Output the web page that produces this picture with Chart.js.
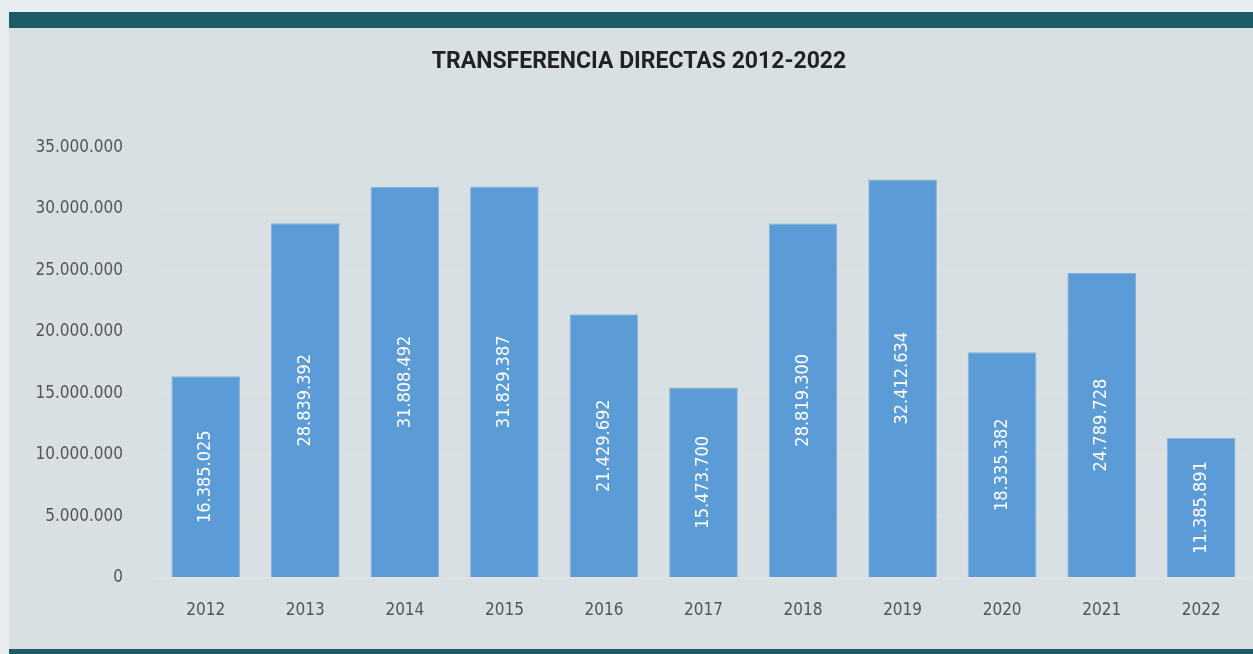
<!DOCTYPE html>
<html>
<head>
<meta charset="utf-8">
<script src="https://cdn.jsdelivr.net/npm/chart.js@4/dist/chart.umd.min.js"></script>
<style>
    html, body { margin: 0; padding: 0; width: 1253px; height: 654px; overflow: hidden; background: #e8eef0; }
    #card { position: absolute; left: 9px; top: 12px; right: 0; bottom: 0; background: #d8e0e3;
            border-top: 16px solid #1f5a68; border-bottom: 5px solid #1f5a68; }
    #chart { position: absolute; left: 0; top: 0; }
</style>
</head>
<body>
<div id="card"></div>
<canvas id="chart" width="1253" height="654"></canvas>
<script>
const years = ['2012', '2013', '2014', '2015', '2016', '2017', '2018', '2019', '2020', '2021', '2022'];
const transfers = [16385025, 28839392, 31808492, 31829387, 21429692, 15473700, 28819300, 32412634, 18335382, 24789728, 11385891];
const yTicks = [0, 5000000, 10000000, 15000000, 20000000, 25000000, 30000000, 35000000];

const condensed = "'Liberation Sans Narrow', 'DejaVu Sans Condensed', Roboto, sans-serif";

function fmt(v) {
    return String(v).replace(/\B(?=(\d{3})+(?!\d))/g, '.');
}

// value labels, rotated, in the middle of each bar
const barLabels = {
    id: 'barLabels',
    afterDatasetsDraw(chart) {
        const ctx = chart.ctx;
        const meta = chart.getDatasetMeta(0);
        ctx.save();
        ctx.fillStyle = '#ffffff';
        ctx.font = '18px ' + condensed;
        ctx.textAlign = 'center';
        ctx.textBaseline = 'middle';
        meta.data.forEach((bar, i) => {
            const mid = (bar.y + bar.base) / 2;
            ctx.save();
            ctx.translate(bar.x, mid);
            ctx.rotate(-Math.PI / 2);
            ctx.fillText(fmt(transfers[i]), 0, 0);
            ctx.restore();
        });
        ctx.restore();
    }
};

let ctx = document.getElementById('chart');
let chart = new Chart(ctx, {
    type: 'bar',
    data: {
        labels: years,
        datasets: [
            {
                data: transfers,
                backgroundColor: '#5b9bd6',
                borderColor: '#86b4de',
                borderWidth: 1,
                barPercentage: 0.69,
                categoryPercentage: 1
            }
        ]
    },
    options: {
        responsive: false,
        animation: false,
        layout: {
            padding: {top: 36, left: 27, right: 2, bottom: 10}
        },
        plugins: {
            legend: {display: false},
            tooltip: {enabled: false},
            title: {
                display: true,
                text: 'TRANSFERENCIA DIRECTAS 2012-2022',
                color: '#222222',
                font: {family: 'Roboto', size: 23, weight: 'bold'},
                padding: {top: 12, bottom: 72}
            }
        },
        scales: {
            x: {
                grid: {display: false, drawTicks: false},
                border: {display: true, color: '#e2e2e2', width: 2},
                ticks: {
                    color: '#555555',
                    padding: 23,
                    font: {family: condensed, size: 17}
                }
            },
            y: {
                min: 0,
                max: 35000000,
                afterBuildTicks: (axis) => {
                    axis.ticks = yTicks.map(v => ({value: v}));
                },
                afterFit: (axis) => {
                    axis.width = 129;
                },
                grid: {color: '#e2e0e0', lineWidth: 1, drawTicks: false},
                border: {display: false},
                ticks: {
                    color: '#555555',
                    padding: 33,
                    font: {family: condensed, size: 17},
                    callback: (v) => fmt(v)
                }
            }
        }
    },
    plugins: [barLabels]
});
</script>
</body>
</html>
